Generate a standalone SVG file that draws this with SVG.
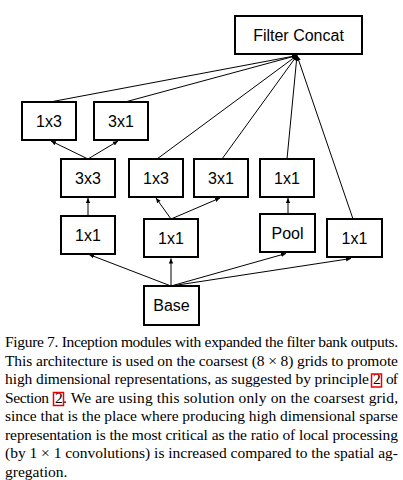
<svg xmlns="http://www.w3.org/2000/svg" width="403" height="480" viewBox="0 0 403 480">
<style>
.box{fill:#fff;stroke:#000;stroke-width:2}
.lbl{font-family:"Liberation Sans",Arial,sans-serif;font-size:16px;fill:#000;text-anchor:middle}
.con line{stroke:#000;stroke-width:1}
.cap{font-family:"Liberation Serif","Times New Roman",serif;font-size:15.5px;fill:#000}
.lnk{fill:none;stroke:#e00;stroke-width:1.5}
</style>
<defs>
<marker id="ah" markerUnits="userSpaceOnUse" markerWidth="6" markerHeight="6" refX="5" refY="3" orient="auto">
<path d="M0,0.8 L5,3 L0,5.2 Z" fill="#000"/>
</marker>
</defs>
<rect width="403" height="480" fill="#fff"/>
<g id="connectors" class="con">
<line x1="171" y1="286" x2="89" y2="254.5" marker-end="url(#ah)"/>
<line x1="171" y1="286" x2="171" y2="258.5" marker-end="url(#ah)"/>
<line x1="171" y1="286" x2="286" y2="253.5" marker-end="url(#ah)"/>
<line x1="171" y1="286" x2="351" y2="258.5" marker-end="url(#ah)"/>
<line x1="88" y1="216" x2="88" y2="198" marker-end="url(#ah)"/>
<line x1="171" y1="219" x2="156" y2="198" marker-end="url(#ah)"/>
<line x1="171" y1="219" x2="220" y2="198" marker-end="url(#ah)"/>
<line x1="288" y1="214" x2="288" y2="198" marker-end="url(#ah)"/>
<line x1="88" y1="159" x2="51" y2="141" marker-end="url(#ah)"/>
<line x1="88" y1="159" x2="118" y2="141" marker-end="url(#ah)"/>
<line x1="50" y1="102" x2="297" y2="55.5" marker-end="url(#ah)"/>
<line x1="125" y1="102" x2="297" y2="55.5" marker-end="url(#ah)"/>
<line x1="157" y1="159" x2="297" y2="55.5" marker-end="url(#ah)"/>
<line x1="222" y1="159" x2="297" y2="55.5" marker-end="url(#ah)"/>
<line x1="287" y1="159" x2="297" y2="55.5" marker-end="url(#ah)"/>
<line x1="353" y1="219" x2="297" y2="55.5" marker-end="url(#ah)"/>
</g>
<g id="concat"><rect class="box" x="235" y="16" width="127" height="38"/><text class="lbl" x="298.5" y="41">Filter Concat</text></g>
<g id="top1x3"><rect class="box" x="22" y="102" width="54" height="38"/><text class="lbl" x="49" y="127">1x3</text></g>
<g id="top3x1"><rect class="box" x="94" y="102" width="54" height="38"/><text class="lbl" x="121" y="127">3x1</text></g>
<g id="n3x3"><rect class="box" x="61" y="159" width="54" height="38"/><text class="lbl" x="88" y="184">3x3</text></g>
<g id="mid1x3"><rect class="box" x="129" y="159" width="54" height="38"/><text class="lbl" x="156" y="184">1x3</text></g>
<g id="mid3x1"><rect class="box" x="194" y="159" width="54" height="38"/><text class="lbl" x="221" y="184">3x1</text></g>
<g id="mid1x1"><rect class="box" x="260" y="159" width="54" height="38"/><text class="lbl" x="287" y="184">1x1</text></g>
<g id="a1x1"><rect class="box" x="61" y="216" width="54" height="38"/><text class="lbl" x="88" y="241">1x1</text></g>
<g id="b1x1"><rect class="box" x="144" y="219" width="54" height="38"/><text class="lbl" x="171" y="244">1x1</text></g>
<g id="pool"><rect class="box" x="260" y="214" width="55" height="38"/><text class="lbl" x="287.5" y="239">Pool</text></g>
<g id="c1x1"><rect class="box" x="327" y="219" width="55" height="38"/><text class="lbl" x="354.5" y="244">1x1</text></g>
<g id="base"><rect class="box" x="144" y="286" width="55" height="39"/><text class="lbl" x="171.5" y="311">Base</text></g>
<g id="caption" class="cap">
<text x="5" y="347" textLength="393" lengthAdjust="spacing">Figure 7. Inception modules with expanded the filter bank outputs.</text>
<text x="5" y="365.5" textLength="393" lengthAdjust="spacing">This architecture is used on the coarsest (8 × 8) grids to promote</text>
<text x="5" y="384" textLength="364" lengthAdjust="spacing">high dimensional representations, as suggested by principle</text>
<text x="373" y="384">2</text>
<text x="386" y="384" textLength="12" lengthAdjust="spacing">of</text>
<text x="5" y="402.5" textLength="44" lengthAdjust="spacing">Section</text>
<text x="55" y="402.5">2</text>
<text x="63" y="402.5" textLength="335" lengthAdjust="spacing">.  We are using this solution only on the coarsest grid,</text>
<text x="5" y="421" textLength="393" lengthAdjust="spacing">since that is the place where producing high dimensional sparse</text>
<text x="5" y="439.5" textLength="393" lengthAdjust="spacing">representation is the most critical as the ratio of local processing</text>
<text x="5" y="458" textLength="393" lengthAdjust="spacing">(by 1 × 1 convolutions) is increased compared to the spatial ag-</text>
<text x="5" y="476.5">gregation.</text>
<rect class="lnk" x="371.5" y="374" width="10" height="13"/>
<rect class="lnk" x="53.5" y="392.5" width="10" height="13"/>
</g>
</svg>
